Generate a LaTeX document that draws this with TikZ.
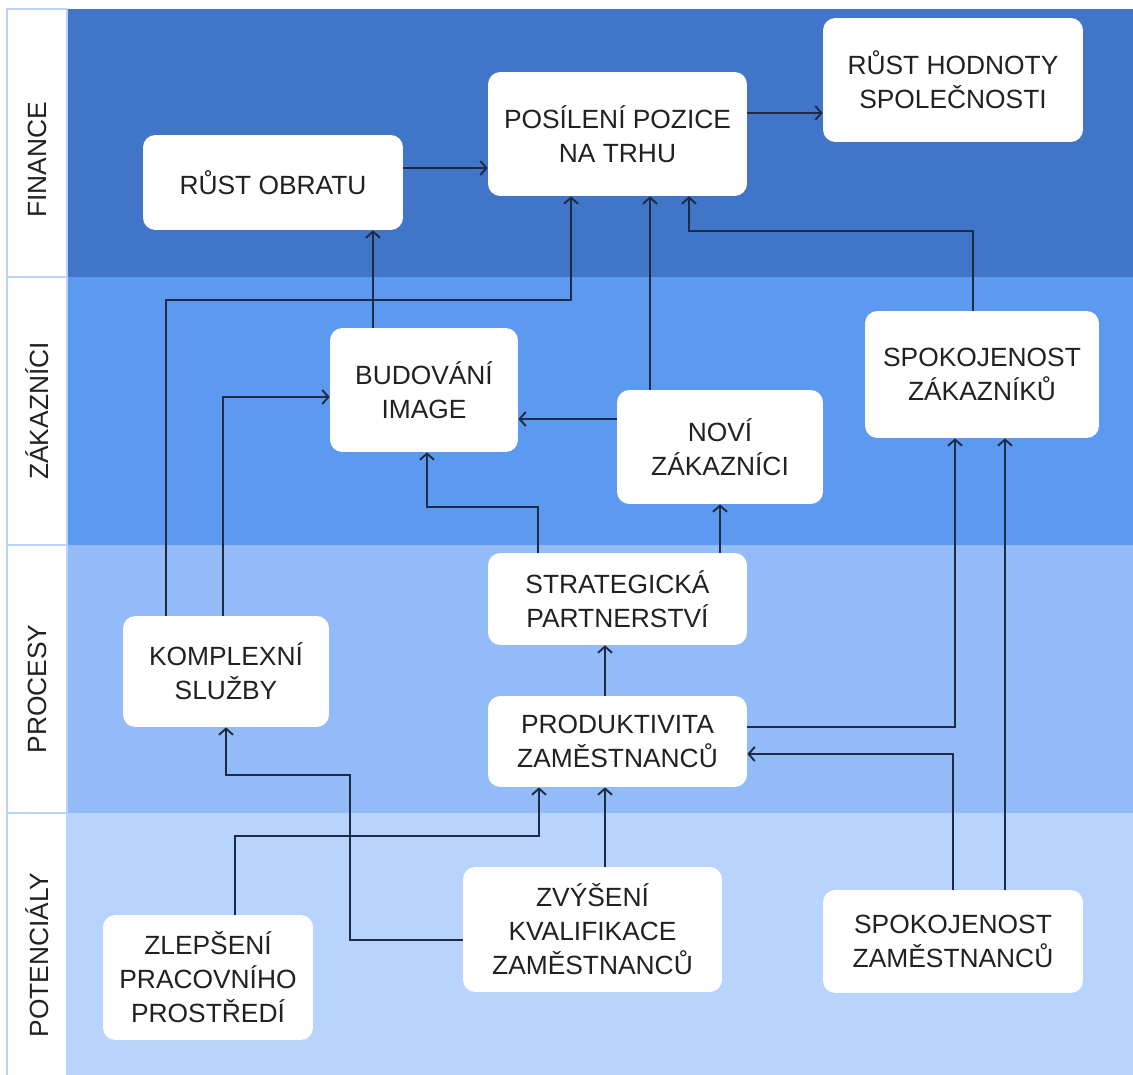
\documentclass[tikz,border=0pt]{standalone}
\usepackage{fontspec}
\setmainfont{Liberation Sans}
\usetikzlibrary{arrows.meta,calc}
\definecolor{finblue}{HTML}{4175C8}
\definecolor{zakblue}{HTML}{5B9AF0}
\definecolor{problue}{HTML}{93BBF7}
\definecolor{potblue}{HTML}{B9D4FC}
\definecolor{linkcol}{HTML}{1E2B44}
\definecolor{txtcol}{HTML}{212121}
\tikzset{
    box/.style={rectangle,rounded corners=7pt,fill=white,inner sep=0pt,align=center,
        text=txtcol,font=\fontsize{15}{19.3}\selectfont},
    lane/.style={rotate=90,text=txtcol,font=\fontsize{15}{18}\selectfont},
    link/.style={-{Straight Barb[length=3.5pt,width=8pt]},line width=1.1pt,draw=linkcol}
}

\begin{document}
\begin{tikzpicture}[x=0.02cm,y=-0.02cm]

    \useasboundingbox (0,0) rectangle (1133,1075);

    % bands
    \fill[finblue] (67,9) rectangle (1133,277);
    \fill[zakblue] (67,277) rectangle (1133,545);
    \fill[problue] (67,545) rectangle (1133,813);
    \fill[potblue] (67,813) rectangle (1133,1075);
    \draw[potblue,line width=1pt] (7,1075) -- (7,9) -- (67,9) -- (67,1075);
    \foreach \y in {277,545,813}
        \draw[potblue,line width=1pt] (7,\y) -- (67,\y);

    \node[lane] (finance)    at (37,160) {FINANCE};
    \node[lane] (zakaznici)  at (37,411) {ZÁKAZNÍCI};
    \node[lane] (procesy)    at (37,689) {PROCESY};
    \node[lane] (potencialy) at (37,955) {POTENCIÁLY};

    % nodes
    \node[box,minimum width=5.2cm,minimum height=1.9cm]   (rustobr)  at (273,182.5) {RŮST OBRATU};
    \node[box,minimum width=5.18cm,minimum height=2.48cm] (posileni) at (617.5,134)  {POSÍLENÍ POZICE\\NA TRHU};
    \node[box,minimum width=5.2cm,minimum height=2.48cm]  (hodnota)  at (953,80)     {RŮST HODNOTY\\SPOLEČNOSTI};
    \node[box,minimum width=3.76cm,minimum height=2.48cm] (budovani) at (424,390)    {BUDOVÁNÍ\\IMAGE};
    \node[box,minimum width=4.12cm,minimum height=2.28cm] (novi)     at (720,447)    {NOVÍ\\ZÁKAZNÍCI};
    \node[box,minimum width=4.68cm,minimum height=2.54cm] (spokzak)  at (982,374.5)  {SPOKOJENOST\\ZÁKAZNÍKŮ};
    \node[box,minimum width=5.18cm,minimum height=1.84cm] (strateg)  at (617.5,599)  {STRATEGICKÁ\\PARTNERSTVÍ};
    \node[box,minimum width=4.12cm,minimum height=2.22cm] (kompl)    at (226,671.5)  {KOMPLEXNÍ\\SLUŽBY};
    \node[box,minimum width=5.18cm,minimum height=1.82cm] (produkt)  at (617.5,741.5) {PRODUKTIVITA\\ZAMĚSTNANCŮ};
    \node[box,minimum width=4.2cm,minimum height=2.5cm]   (zlepseni) at (208,977.5)  {ZLEPŠENÍ\\PRACOVNÍHO\\PROSTŘEDÍ};
    \node[box,minimum width=5.18cm,minimum height=2.5cm]  (zvyseni)  at (592.5,929.5) {ZVÝŠENÍ\\KVALIFIKACE\\ZAMĚSTNANCŮ};
    \node[box,minimum width=5.2cm,minimum height=2.06cm]  (spokzam)  at (953,941.5)  {SPOKOJENOST\\ZAMĚSTNANCŮ};

    % finance
    \draw[link] ($(rustobr.east)+(0,-14.5)$) coordinate (r1) -- (r1 -| posileni.west);
    \draw[link] ($(posileni.east)+(0,-21)$) coordinate (p1) -- (p1 -| hodnota.west);

    % zakaznici
    \draw[link] ($(budovani.north)+(-51,0)$) coordinate (b1) -- (b1 |- rustobr.south);
    \draw[link] ($(kompl.north)+(-60,0)$) |- ($(posileni.south)+(-46.5,104)$) -- ($(posileni.south)+(-46.5,0)$);
    \draw[link] ($(novi.north)+(-70,0)$) coordinate (n1) -- (n1 |- posileni.south);
    \draw[link] ($(spokzak.north)+(-9,0)$) |- ($(posileni.south)+(71.5,35)$) -- ($(posileni.south)+(71.5,0)$);
    \draw[link] ($(kompl.north)+(-3,0)$) |- ($(budovani.west)+(0,7)$);
    \draw[link] ($(novi.west)+(0,-28)$) coordinate (n2) -- (n2 -| budovani.east);

    % procesy
    \draw[link] ($(strateg.north)+(-79.5,0)$) |- ($(budovani.south)+(3,55)$) -- ($(budovani.south)+(3,0)$);
    \draw[link] (novi.south |- strateg.north) -- (novi.south);
    \draw[link] ($(produkt.north)+(-12.5,0)$) coordinate (p2) -- (p2 |- strateg.south);
    \draw[link] ($(produkt.east)+(0,-14.5)$) -| ($(spokzak.south)+(-27,0)$);

    % potencialy
    \coordinate (z1) at ($(spokzak.south)+(23,0)$);
    \draw[link] (z1 |- spokzam.north) -- (z1);
    \draw[link] (spokzam.north) |- ($(produkt.east)+(0,12.5)$);
    \draw[link] ($(zlepseni.north)+(27,0)$) |- ($(produkt.south)+(-78.5,49)$) -- ($(produkt.south)+(-78.5,0)$);
    \coordinate (p3) at ($(produkt.south)+(-12.5,0)$);
    \draw[link] (p3 |- zvyseni.north) -- (p3);
    \draw[link] ($(zvyseni.west)+(0,10.5)$) -| ($(kompl.south)+(124,48)$) -| (kompl.south);

\end{tikzpicture}
\end{document}
